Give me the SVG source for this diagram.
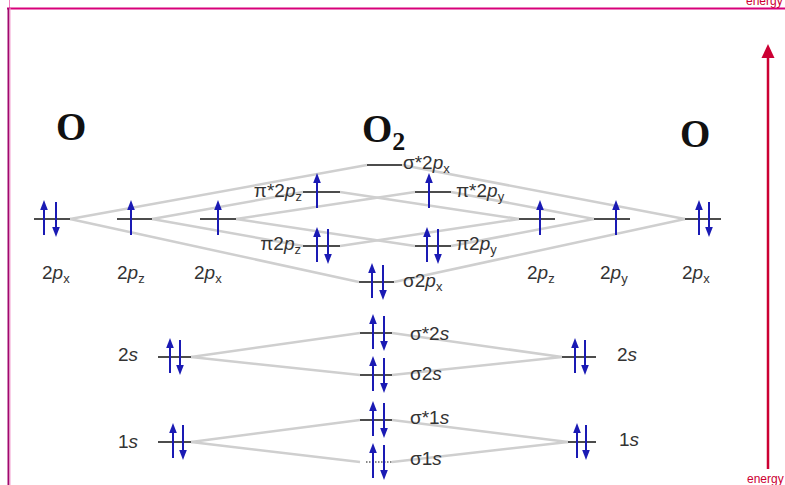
<svg xmlns="http://www.w3.org/2000/svg" xmlns:xlink="http://www.w3.org/1999/xlink" width="785" height="485" viewBox="0 0 785 485">
<style>
.lbl{font-family:"Liberation Sans",Arial,sans-serif;font-size:19px;fill:#333}
.it{font-style:italic}
.sub{font-size:13px}
.atom{font-family:"Liberation Serif","Times New Roman",serif;font-weight:bold;font-size:39px;fill:#111}
.lvl{stroke:#111;stroke-width:1.5}
.con{stroke:#cfcfcf;stroke-width:2.5;fill:none}
.en{font-family:"Liberation Sans",Arial,sans-serif;font-size:12px;fill:#cc0033}
</style>
<defs>
<g id="up"><line x1="0" y1="-12" x2="0" y2="16" stroke="#1a1ab4" stroke-width="2"/><polygon points="0,-19 -3.8,-9 3.8,-9" fill="#1a1ab4"/></g>
<g id="dn"><line x1="0" y1="-17" x2="0" y2="11" stroke="#1a1ab4" stroke-width="2"/><polygon points="0,18 -3.8,8 3.8,8" fill="#1a1ab4"/></g>
</defs>
<rect width="785" height="485" fill="#fff"/>
<g id="frame">
<line x1="9.5" y1="0" x2="9.5" y2="8" stroke="#f080c0" stroke-width="1"/>
<line x1="7" y1="8.5" x2="785" y2="8.5" stroke="#d8007a" stroke-width="2"/>
<line x1="8.5" y1="8" x2="8.5" y2="485" stroke="#a0086e" stroke-width="2"/>
<line x1="10" y1="8" x2="10" y2="485" stroke="#f4a0d0" stroke-width="1"/>
</g>
<g id="energy">
<text class="en" x="746" y="5">energy</text>
<line x1="768" y1="56" x2="768" y2="469" stroke="#cc0033" stroke-width="2.5"/>
<polygon points="768,44 761.5,58 774.5,58" fill="#cc0033"/>
<text class="en" x="747" y="483">energy</text>
</g>
<g id="connectors">
<line class="con" x1="70" y1="219" x2="367" y2="165"/>
<line class="con" x1="70" y1="219" x2="359" y2="282"/>
<line class="con" x1="152" y1="219" x2="303" y2="192"/>
<line class="con" x1="152" y1="219" x2="303" y2="246"/>
<line class="con" x1="236" y1="219" x2="415" y2="192"/>
<line class="con" x1="236" y1="219" x2="415" y2="246"/>
<line class="con" x1="685" y1="219" x2="402" y2="165"/>
<line class="con" x1="685" y1="219" x2="394" y2="282"/>
<line class="con" x1="594" y1="219" x2="451" y2="192"/>
<line class="con" x1="594" y1="219" x2="451" y2="246"/>
<line class="con" x1="519" y1="219" x2="340" y2="192"/>
<line class="con" x1="519" y1="219" x2="340" y2="246"/>
<line class="con" x1="191" y1="357" x2="360" y2="333"/>
<line class="con" x1="191" y1="357" x2="360" y2="375"/>
<line class="con" x1="562" y1="357" x2="392" y2="333"/>
<line class="con" x1="562" y1="357" x2="392" y2="375"/>
<line class="con" x1="191" y1="442" x2="360" y2="420"/>
<line class="con" x1="191" y1="442" x2="360" y2="462"/>
<line class="con" x1="568" y1="442" x2="392" y2="420"/>
<line class="con" x1="568" y1="442" x2="392" y2="462"/>
</g>
<g id="atom-left">
<text class="atom" x="56" y="140">O</text>
</g>
<g id="molecule">
<text class="atom" x="362" y="142">O<tspan font-size="26" dy="8">2</tspan></text>
</g>
<g id="atom-right">
<text class="atom" x="680" y="147">O</text>
</g>
<g id="L-2px">
<line class="lvl" x1="34" y1="219" x2="70" y2="219"/>
<use href="#up" x="44" y="219"/><use href="#dn" x="56" y="219"/>
<text class="lbl" x="42" y="279">2<tspan class="it">p</tspan><tspan class="sub" dy="4">x</tspan></text>
</g>
<g id="L-2pz">
<line class="lvl" x1="117" y1="219" x2="152" y2="219"/>
<use href="#up" x="131" y="219"/>
<text class="lbl" x="117" y="279">2<tspan class="it">p</tspan><tspan class="sub" dy="4">z</tspan></text>
</g>
<g id="L-2px2">
<line class="lvl" x1="200" y1="219" x2="236" y2="219"/>
<use href="#up" x="218" y="219"/>
<text class="lbl" x="194" y="279">2<tspan class="it">p</tspan><tspan class="sub" dy="4">x</tspan></text>
</g>
<g id="R-2pz">
<line class="lvl" x1="519" y1="219" x2="555" y2="219"/>
<use href="#up" x="540" y="219"/>
<text class="lbl" x="527" y="279">2<tspan class="it">p</tspan><tspan class="sub" dy="4">z</tspan></text>
</g>
<g id="R-2py">
<line class="lvl" x1="594" y1="219" x2="630" y2="219"/>
<use href="#up" x="616" y="219"/>
<text class="lbl" x="600" y="279">2<tspan class="it">p</tspan><tspan class="sub" dy="4">y</tspan></text>
</g>
<g id="R-2px">
<line class="lvl" x1="685" y1="219" x2="721" y2="219"/>
<use href="#up" x="699" y="219"/><use href="#dn" x="709" y="219"/>
<text class="lbl" x="682" y="279">2<tspan class="it">p</tspan><tspan class="sub" dy="4">x</tspan></text>
</g>
<g id="sigma-star-2px">
<line class="lvl" x1="367" y1="165" x2="402" y2="165"/>
<text class="lbl" x="403" y="169">σ*2<tspan class="it">p</tspan><tspan class="sub" dy="4">x</tspan></text>
</g>
<g id="pi-star-2pz">
<line class="lvl" x1="303" y1="192" x2="340" y2="192"/>
<use href="#up" x="317" y="192"/>
<text class="lbl" x="302" y="197" text-anchor="end">π*2<tspan class="it">p</tspan><tspan class="sub" dy="4">z</tspan></text>
</g>
<g id="pi-star-2py">
<line class="lvl" x1="415" y1="192" x2="451" y2="192"/>
<use href="#up" x="429" y="192"/>
<text class="lbl" x="456" y="197">π*2<tspan class="it">p</tspan><tspan class="sub" dy="4">y</tspan></text>
</g>
<g id="pi-2pz">
<line class="lvl" x1="303" y1="246" x2="340" y2="246"/>
<use href="#up" x="317" y="246"/><use href="#dn" x="328" y="246"/>
<text class="lbl" x="301" y="250" text-anchor="end">π2<tspan class="it">p</tspan><tspan class="sub" dy="4">z</tspan></text>
</g>
<g id="pi-2py">
<line class="lvl" x1="415" y1="246" x2="451" y2="246"/>
<use href="#up" x="427" y="246"/><use href="#dn" x="438" y="246"/>
<text class="lbl" x="456" y="250">π2<tspan class="it">p</tspan><tspan class="sub" dy="4">y</tspan></text>
</g>
<g id="sigma-2px">
<line class="lvl" x1="359" y1="282" x2="394" y2="282"/>
<use href="#up" x="372" y="282"/><use href="#dn" x="383" y="282"/>
<text class="lbl" x="403" y="287">σ2<tspan class="it">p</tspan><tspan class="sub" dy="4">x</tspan></text>
</g>
<g id="sigma-star-2s">
<line class="lvl" x1="360" y1="333" x2="392" y2="333"/>
<use href="#up" x="373" y="333"/><use href="#dn" x="384" y="333"/>
<text class="lbl" x="410" y="340">σ*2<tspan class="it">s</tspan></text>
</g>
<g id="sigma-2s">
<line class="lvl" x1="360" y1="375" x2="392" y2="375"/>
<use href="#up" x="373" y="375"/><use href="#dn" x="384" y="375"/>
<text class="lbl" x="410" y="380">σ2<tspan class="it">s</tspan></text>
</g>
<g id="sigma-star-1s">
<line class="lvl" x1="360" y1="420" x2="392" y2="420"/>
<use href="#up" x="373" y="420"/><use href="#dn" x="384" y="420"/>
<text class="lbl" x="410" y="424">σ*1<tspan class="it">s</tspan></text>
</g>
<g id="sigma-1s">
<line x1="366" y1="462" x2="393" y2="462" stroke="#111" stroke-width="1" stroke-dasharray="1.5,1.5"/>
<use href="#up" x="373" y="462"/><use href="#dn" x="384" y="462"/>
<text class="lbl" x="410" y="465">σ1<tspan class="it">s</tspan></text>
</g>
<g id="L-2s">
<line class="lvl" x1="158" y1="357" x2="191" y2="357"/>
<use href="#up" x="170" y="357"/><use href="#dn" x="180" y="357"/>
<text class="lbl" x="118" y="361">2<tspan class="it">s</tspan></text>
</g>
<g id="R-2s">
<line class="lvl" x1="562" y1="357" x2="596" y2="357"/>
<use href="#up" x="575" y="357"/><use href="#dn" x="585" y="357"/>
<text class="lbl" x="617" y="361">2<tspan class="it">s</tspan></text>
</g>
<g id="L-1s">
<line class="lvl" x1="158" y1="442" x2="191" y2="442"/>
<use href="#up" x="173" y="442"/><use href="#dn" x="183" y="442"/>
<text class="lbl" x="118" y="448">1<tspan class="it">s</tspan></text>
</g>
<g id="R-1s">
<line class="lvl" x1="568" y1="442" x2="596" y2="442"/>
<use href="#up" x="577" y="442"/><use href="#dn" x="586" y="442"/>
<text class="lbl" x="619" y="446">1<tspan class="it">s</tspan></text>
</g>
</svg>
